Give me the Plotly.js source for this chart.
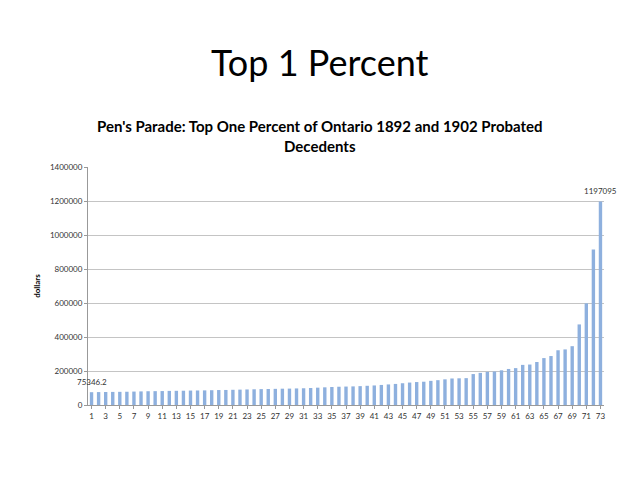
<!DOCTYPE html>
<html>
<head>
<meta charset="utf-8">
<script src="https://cdn.plot.ly/plotly-3.0.1.min.js"></script>
<style>html,body{margin:0;padding:0;background:#fff;}#chart{width:640px;height:480px;}</style>
</head>
<body>
<div id="chart"></div>
<script>
var ranks = [];
for (var i = 1; i <= 73; i++) ranks.push(String(i));
var wealth = [
  75346.2, 76000, 76500, 77000, 77500, 78000, 79000, 80000, 81000, 81500,
  82000, 83000, 83500, 84000, 85000, 85500, 86000, 87000, 88000, 88500,
  89500, 90500, 91500, 92500, 93500, 94000, 95000, 96000, 96500, 97500,
  98500, 100000, 102000, 104000, 106000, 107500, 108500, 109500, 111000, 113000,
  115000, 118000, 121000, 124000, 128000, 132000, 135000, 137000, 142000, 146000,
  151000, 156000, 157000, 158000, 182000, 189000, 195000, 197000, 204000, 212000,
  217000, 236000, 238000, 253000, 276000, 288000, 322000, 327000, 346000, 474000,
  598000, 915000, 1197095
];
var tickLabels = ranks.filter(function(r, i){ return i % 2 === 0; });
var yTicks = [0, 200000, 400000, 600000, 800000, 1000000, 1200000, 1400000];
var labelIdx = [0, wealth.length - 1];

var FONT = 'Lato, "Open Sans", sans-serif';

var trace = {
  type: 'bar',
  x: ranks,
  y: wealth,
  marker: {color: '#8eb0de', line: {width: 0}},
  hoverinfo: 'x+y'
};

var annotations = [
  {text: 'Top 1 Percent', xref: 'paper', yref: 'paper', x: 0.5, xanchor: 'center', xshift: -26,
   y: 1, yanchor: 'middle', yshift: 167 - 62, showarrow: false,
   font: {family: FONT, size: 36, color: '#000'}},
  {text: "<b>Pen's Parade: Top One Percent of Ontario 1892 and 1902 Probated<br>Decedents</b>",
   xref: 'paper', yref: 'paper', x: 0.5, xanchor: 'center', xshift: -26,
   y: 1, yanchor: 'middle', yshift: 167 - 136, showarrow: false,
   font: {family: FONT, size: 15, color: '#000'}}
];
labelIdx.forEach(function(i){
  annotations.push({
    text: String(wealth[i]), x: i, y: wealth[i], xref: 'x', yref: 'y',
    xanchor: 'center', yanchor: 'bottom', yshift: 3, showarrow: false,
    font: {family: FONT, size: 8, color: '#333'}
  });
});

var layout = {
  width: 640, height: 480,
  paper_bgcolor: '#fff', plot_bgcolor: '#fff',
  margin: {l: 88, r: 36, t: 167, b: 75},
  showlegend: false,
  bargap: 0.52,
  font: {family: FONT, color: '#333'},
  xaxis: {
    type: 'category',
    range: [-0.5, ranks.length - 0.5],
    autorange: false,
    tickmode: 'array', tickvals: tickLabels, ticktext: tickLabels,
    tickfont: {size: 8, color: '#333'},
    showline: true, linecolor: '#999', linewidth: 1,
    ticks: 'outside', ticklen: 3, tickcolor: '#999',
    showgrid: false
  },
  yaxis: {
    range: [0, 1400000],
    autorange: false,
    tickmode: 'array', tickvals: yTicks, ticktext: yTicks.map(String),
    tickfont: {size: 8, color: '#333'},
    showline: true, linecolor: '#999', linewidth: 1,
    ticks: 'outside', ticklen: 3, tickcolor: '#999',
    showgrid: true, gridcolor: '#c4c4c4', gridwidth: 1,
    zeroline: false,
    title: {text: 'dollars', font: {size: 8, color: '#000', weight: 'bold'}, standoff: 8}
  },
  annotations: annotations
};

Plotly.newPlot('chart', [trace], layout, {staticPlot: true, displayModeBar: false});
</script>
</body>
</html>
